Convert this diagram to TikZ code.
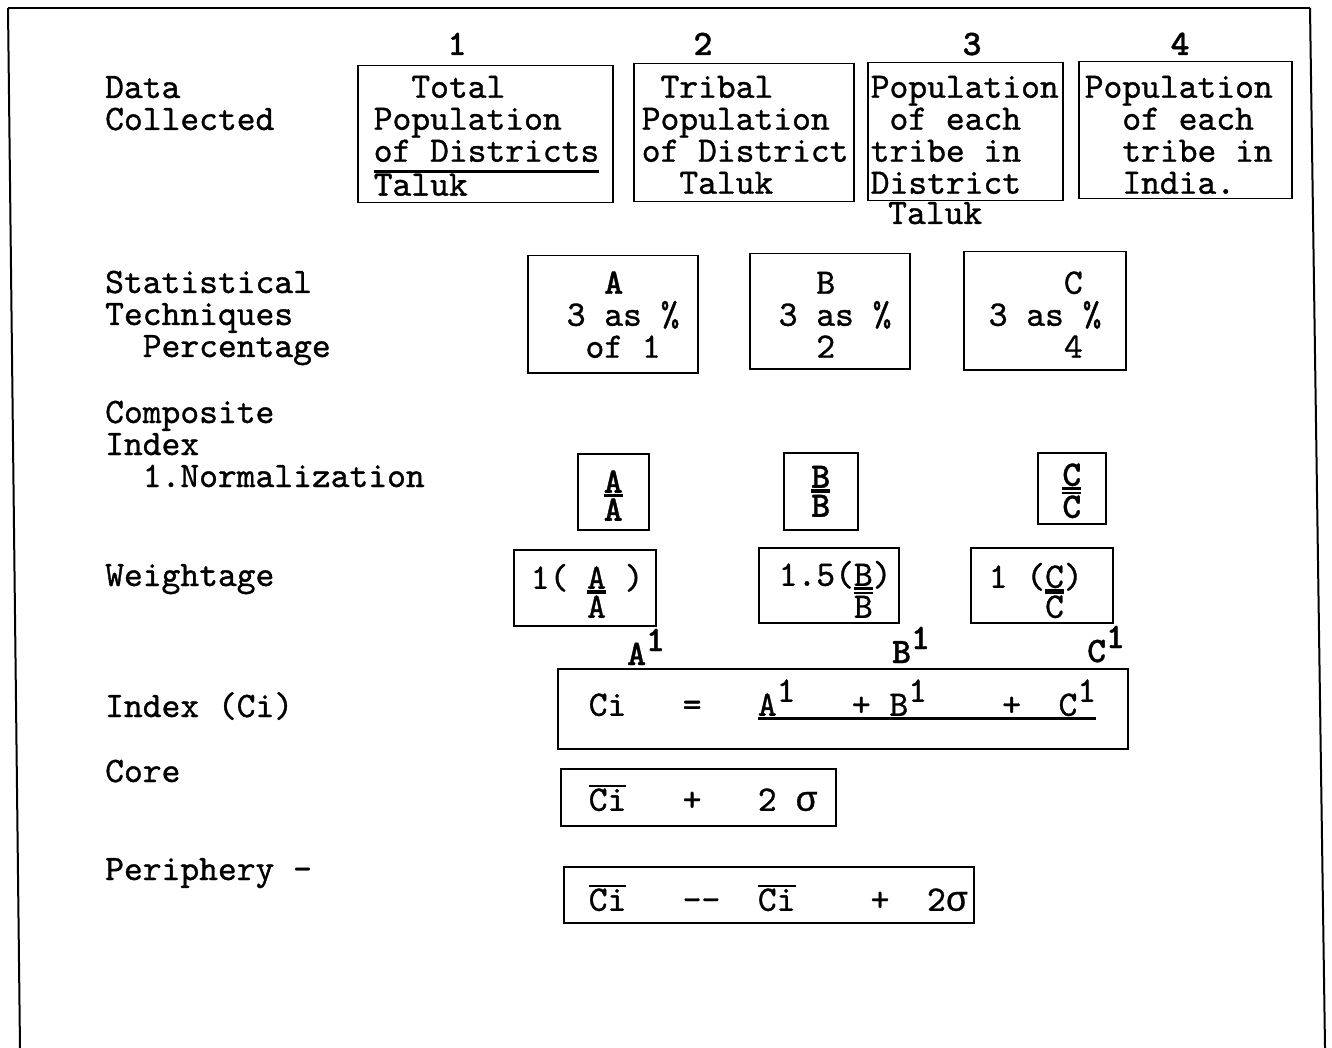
\documentclass[tikz,border=0pt]{standalone}
\usepackage{fontspec}
\usepackage{tikz}
\usetikzlibrary{positioning}

\setmonofont{lmmono10-regular.otf}[FakeBold=1, BoldFont=lmmonolt10-bold.otf, BoldFeatures={FakeBold=1}]
\newfontfamily\greekmono{Liberation Mono}[FakeBold=0.5]
\newcommand{\twfont}{\ttfamily\fontsize{35.8}{32}\selectfont}
\newcommand{\twbold}{\ttfamily\bfseries\fontsize{35.8}{32}\selectfont}
% one typewriter space, the width of one character
\def~{\leavevmode\hbox to 0.525em{}}
\newcommand{\rulebelow}[2][-4pt]{\leavevmode\setbox0\hbox{#2}\rlap{\rule[#1]{\wd0}{2.5pt}}\box0}
\newcommand{\barover}[1]{\leavevmode\setbox0\hbox{#1}\rlap{\rule[0.66em]{\wd0}{2.5pt}}\box0}
\newcommand{\hi}[1]{\raisebox{14pt}{#1}}
\newcommand{\sig}{{\greekmono σ}}

\begin{document}
\begin{tikzpicture}[
        x=1pt, y=-1pt,
        every node/.style={font=\twfont, inner sep=0pt},
        rowlabel/.style={anchor=base west, text width=340pt, align=left},
        colnum/.style={anchor=base, font=\twbold},
        tbox/.style n args={4}{draw, line width=1.5pt, anchor=north west, inner ysep=0pt, inner xsep=#1, text width=#2, text height=#3, text depth=#4, align=left},
        normbox/.style={align=center, font=\twbold},
        boldlabel/.style={anchor=base west, font=\twbold},
        frame/.style={line width=2pt}
    ]
    \useasboundingbox (0,0) rectangle (1332,1048);
%
    % Frame
    \draw[frame] (8,8) -- (1310,8);
    \draw[frame] (8,8) -- (20,1048);
    \draw[frame] (1310,8) -- (1325,1048);
%
    % Column numbers
    \node[colnum] (n1) at (457,55) {1};
    \node[colnum] (n2) at (703,55) {2};
    \node[colnum] (n3) at (972,55) {3};
    \node[colnum] (n4) at (1180,55) {4};
%
    % Row labels
    \node[rowlabel] (data) at (105,98) {Data\\Collected};
    \node[rowlabel] (stat) at (105,293) {Statistical\\Techniques\\~~Percentage};
    \node[rowlabel] (comp) at (105,423) {Composite\\Index\\~~1.Normalization};
    \node[rowlabel] (wgt) at (105,586) {Weightage};
    \node[rowlabel] (idx) at (105,717) {Index~(Ci)};
    \node[rowlabel] (core) at (105,782) {Core};
    \node[rowlabel] (peri) at (105,880) {Periphery~-};
%
    % Data collected
    \node[tbox={16pt}{223pt}{32pt}{105pt}] (pop) at (357,65) {~~Total\\Population\\\rulebelow[-11pt]{of~Districts}\\Taluk};
    \node[tbox={8pt}{204pt}{34pt}{104pt}] (tribal) at (633,63) {~Tribal\\Population\\of~District\\~~Taluk};
    \node[tbox={3pt}{189pt}{35pt}{103pt}] (tribedist) at (867,62) {Population\\~of~each\\tribe~in\\District};
    \node[anchor=base west] (taluk) at (888,224) {Taluk};
    \node[tbox={6pt}{201pt}{36pt}{101pt}] (tribeind) at (1078,61) {Population\\~~of~each\\~~tribe~in\\~~India.};
%
    % Percentages
    \node[tbox={39pt}{92pt}{38pt}{79pt}] (pcA) at (527,255) {~~\textbf{A}\\3~as~\%\\~of~1};
    \node[tbox={29pt}{102pt}{40pt}{75pt}] (pcB) at (749,253) {~~B\\3~as~\%\\~~2};
    \node[tbox={25pt}{112pt}{42pt}{76pt}] (pcC) at (963,251) {~~~~C\\3~as~\%\\~~~~4};
%
    % Normalization
    \node[tbox={10pt}{51pt}{39pt}{37pt}, normbox] (nA) at (577,453) {\rulebelow{A}\\[-4pt]\barover{A}};
    \node[tbox={10pt}{54pt}{35pt}{42pt}, normbox] (nB) at (783,452) {\rulebelow{B}\\[-3pt]\barover{B}};
    \node[tbox={10pt}{48pt}{33pt}{38pt}, normbox] (nC) at (1037,452) {\rulebelow{C}\\\barover{C}};
%
    % Weightage
    \node[tbox={17pt}{108pt}{39pt}{37pt}] (wA) at (513,549) {1(~\rulebelow{A}~)\\[-3pt]~~~\barover{A}};
    \node[tbox={20pt}{100pt}{38pt}{37pt}] (wB) at (758,547) {1.5(\rulebelow{B})\\~~~~\barover{B}};
    \node[tbox={18pt}{106pt}{40pt}{35pt}] (wC) at (970,547) {1~(\rulebelow{C})\\[-2pt]~~~\barover{C}};
    \node[boldlabel] (Aone) at (627,665) {A\hi{1}};
    \node[boldlabel] (Bone) at (892,663) {B\hi{1}};
    \node[boldlabel] (Cone) at (1087,662) {C\hi{1}};
%
    % Index, core, periphery
    \node[tbox={31pt}{508pt}{47pt}{33pt}] (cibox) at (557,668) {Ci~~~=~~~\rulebelow{A\hi{1}~~~+~B\hi{1}~~~~+~~C\hi{1}}};
    \node[tbox={28pt}{219pt}{42pt}{15pt}] (corebox) at (560,768) {\barover{Ci}~~~+~~~2~\sig};
    \node[tbox={25pt}{360pt}{44pt}{12pt}] (peribox) at (563,866) {\barover{Ci}~~~-\kern0pt-~~\barover{Ci}~~~~+~~2\sig};
%
\end{tikzpicture}
\end{document}
